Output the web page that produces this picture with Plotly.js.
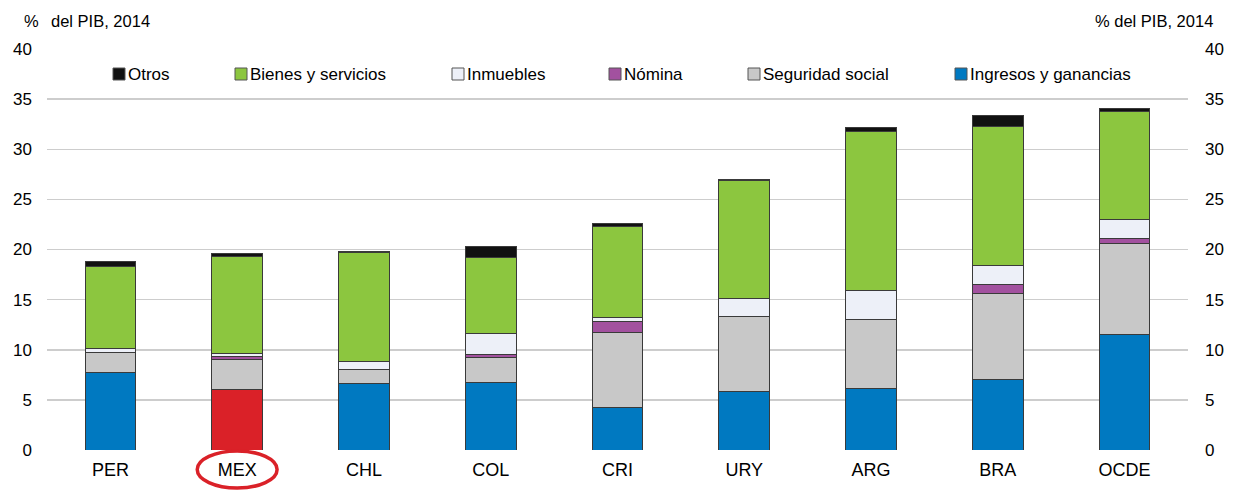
<!DOCTYPE html>
<html>
<head>
<meta charset="utf-8">
<script src="https://cdn.plot.ly/plotly-3.0.1.min.js"></script>
<style>
html,body{margin:0;padding:0;background:#fff;}
#chart{width:1235px;height:492px;}
</style>
</head>
<body>
<div id="chart"></div>
<script>
// ---- Data (% del PIB, 2014) ----
const categories = ['PER','MEX','CHL','COL','CRI','URY','ARG','BRA','OCDE'];
const ingresos   = [7.7, 6.0, 6.6, 6.7, 4.2, 5.8, 6.1, 7.0, 11.55];
const seguridad  = [2.05, 3.0, 1.4, 2.5, 7.55, 7.55, 6.95, 8.65, 9.05];
const nomina     = [0.0, 0.35, 0.0, 0.37, 1.05, 0.0, 0.0, 0.9, 0.45];
const inmuebles  = [0.4, 0.3, 0.85, 2.1, 0.45, 1.8, 2.9, 1.9, 1.9];
const bienes     = [8.15, 9.7, 10.85, 7.5, 9.0, 11.7, 15.85, 13.85, 10.85];
const otros      = [0.5, 0.3, 0.15, 1.15, 0.3, 0.12, 0.4, 1.1, 0.3];
const seriesNames = ['Ingresos y ganancias','Seguridad social','Nómina','Inmuebles','Bienes y servicios','Otros'];
const yTickVals = [0,5,10,15,20,25,30,35,40];
const axisTitle = '% del PIB, 2014';
const highlight = 'MEX';

// ---- Styles ----
const colors = ['#0079C1','#C8C8C8','#A2519F','#EDF0F8','#8CC63F','#111111'];
const highlightColor = '#DA2128';
const FONT = 'Liberation Sans, Arial, Helvetica, sans-serif';
const W = 1235, H = 492;
const L = 47, R = 47, T = 49, B = 42;
const PW = W - L - R, PH = H - T - B;
const px2x = p => (p - L) / PW;
const py2y = p => (H - B - p) / PH;

const values = [ingresos, seguridad, nomina, inmuebles, bienes, otros];
const traces = values.map((v, i) => ({
  type: 'bar',
  name: seriesNames[i],
  x: categories,
  y: v,
  marker: {
    color: i === 0 ? categories.map(c => c === highlight ? highlightColor : colors[0]) : colors[i],
    line: {color: '#3a3a3a', width: 1}
  },
  showlegend: false,
  hoverinfo: 'x+y+name'
}));

// custom legend (order as in reference: top of stack first)
const legendOrder = [5,4,3,2,1,0];
const legendPx = [113, 235, 452, 609, 748, 955];
const shapes = [];
const annotations = [];
legendOrder.forEach((si, k) => {
  const x0 = legendPx[k];
  shapes.push({type:'rect', xref:'paper', yref:'paper',
    x0: px2x(x0), x1: px2x(x0 + 12), y0: py2y(80), y1: py2y(68),
    fillcolor: colors[si], line:{color:'#555', width:1}});
  annotations.push({xref:'paper', yref:'paper', x: px2x(x0 + 13), y: py2y(74),
    xanchor:'left', yanchor:'middle', text: seriesNames[si], showarrow:false,
    font:{family:FONT, size:17, color:'#000'}});
});
// axis titles
annotations.push({xref:'paper', yref:'paper', x: px2x(22), y: py2y(21), xanchor:'left', yanchor:'middle',
  text: axisTitle.split(' ')[0], showarrow:false, font:{family:FONT, size:16.5, color:'#000'}});
annotations.push({xref:'paper', yref:'paper', x: px2x(49), y: py2y(21), xanchor:'left', yanchor:'middle',
  text: axisTitle.split(' ').slice(1).join(' '), showarrow:false, font:{family:FONT, size:16.5, color:'#000'}});
annotations.push({xref:'paper', yref:'paper', x: px2x(1215), y: py2y(21), xanchor:'right', yanchor:'middle',
  text: axisTitle, showarrow:false, font:{family:FONT, size:16.5, color:'#000'}});

// highlight ellipse around MEX label
const hi = categories.indexOf(highlight);
shapes.push({type:'circle', xref:'x', yref:'paper', x0: hi - 0.315, x1: hi + 0.315,
  y0: py2y(488), y1: py2y(451), line:{color: highlightColor, width: 3.5}, layer:'above'});

const yaxisBase = {
  range: [0, 40], tickvals: yTickVals, showgrid: true, gridcolor: '#cdcdcd', gridwidth: 1.5,
  zeroline: false, showline: false, ticks: '', fixedrange: true,
  tickfont: {family: FONT, size: 17, color: '#000'}
};

const layout = {
  width: W, height: H,
  margin: {l: L, r: R, t: T, b: B, pad: 0},
  paper_bgcolor: '#fff', plot_bgcolor: '#fff',
  barmode: 'stack', bargap: 0.6,
  font: {family: FONT, size: 16, color: '#000'},
  xaxis: {type:'category', showgrid:false, zeroline:false, showline:false, ticks:'',
    tickfont:{family:FONT, size:18, color:'#000'}, fixedrange:true, ticklabelstandoff: 7},
  yaxis: Object.assign({}, yaxisBase, {side:'left', ticklabelstandoff: 14}),
  yaxis2: Object.assign({}, yaxisBase, {side:'right', overlaying:'y', anchor:'x', showgrid:false, ticklabelstandoff: 16}),
  shapes: shapes,
  annotations: annotations,
  showlegend: false
};

// invisible trace to carry the right axis
const rightAxisTrace = {type:'scatter', x:[categories[0]], y:[0], yaxis:'y2', mode:'markers',
  marker:{opacity:0}, hoverinfo:'skip', showlegend:false};

Plotly.newPlot('chart', traces.concat([rightAxisTrace]), layout, {displayModeBar:false, staticPlot:true});
</script>
</body>
</html>
